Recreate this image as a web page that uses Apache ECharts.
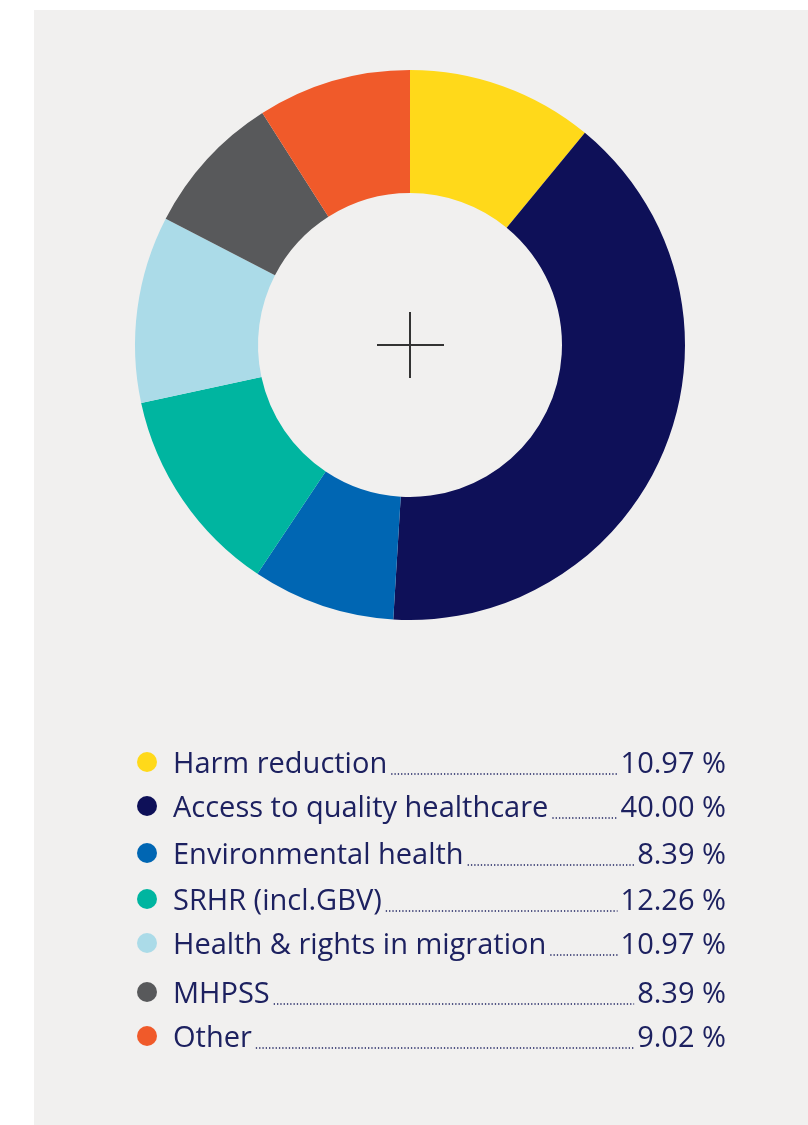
<!DOCTYPE html>
<html>
<head>
<meta charset="utf-8">
<script src="https://cdn.jsdelivr.net/npm/echarts@6/dist/echarts.min.js"></script>
<style>
  html, body { margin: 0; padding: 0; background: #ffffff; }
  #chart { width: 808px; height: 1125px; }
</style>
</head>
<body>
<div id="chart"></div>
<script>
// data
const categories = [
  'Harm reduction',
  'Access to quality healthcare',
  'Environmental health',
  'SRHR (incl.GBV)',
  'Health & rights in migration',
  'MHPSS',
  'Other'
]
const shares = [10.97, 40.00, 8.39, 12.26, 10.97, 8.39, 9.02]
const shareLabels = ['10.97 %', '40.00 %', '8.39 %', '12.26 %', '10.97 %', '8.39 %', '9.02 %']
const colors = ['#FFD91A', '#0E1058', '#0066B3', '#00B5A0', '#ABDBE8', '#58595B', '#F05A2A']

const TEXT_COLOR = '#1d2160'
const FONT_SIZE = 29
const FONT_FAMILY = '"Open Sans", sans-serif'

// legend layout (row centres follow the reference spacing)
const LEGEND = { dotX: 147, textX: 173, valueRight: 726 }
const ROW_Y = [763, 807, 854, 900, 944, 993, 1037]

const ctx = document.createElement('canvas').getContext('2d')
ctx.font = `${FONT_SIZE}px ${FONT_FAMILY}`
const measure = s => ctx.measureText(s).width

const legendItems = []
categories.forEach((name, i) => {
  const y = ROW_Y[i]
  const labelEnd = LEGEND.textX + measure(name)
  const valueStart = LEGEND.valueRight - measure(shareLabels[i])
  legendItems.push({
    type: 'circle',
    shape: { cx: LEGEND.dotX, cy: y - 1, r: 10 },
    style: { fill: colors[i] }
  })
  legendItems.push({
    type: 'text',
    x: LEGEND.textX,
    y: y + 2,
    style: {
      text: name,
      fill: TEXT_COLOR,
      font: `${FONT_SIZE}px ${FONT_FAMILY}`,
      verticalAlign: 'middle',
      align: 'left'
    }
  })
  legendItems.push({
    type: 'line',
    shape: { x1: labelEnd + 4, y1: y + 11, x2: valueStart - 3, y2: y + 11 },
    style: { stroke: TEXT_COLOR, lineWidth: 1.3, lineDash: [1.3, 2] }
  })
  legendItems.push({
    type: 'text',
    x: LEGEND.valueRight,
    y: y + 2,
    style: {
      text: shareLabels[i],
      fill: TEXT_COLOR,
      font: `${FONT_SIZE}px ${FONT_FAMILY}`,
      verticalAlign: 'middle',
      align: 'right'
    }
  })
})

const chart = echarts.init(document.getElementById('chart'))
chart.setOption({
  animation: false,
  color: colors,
  graphic: [
    {
      type: 'rect',
      z: -10,
      silent: true,
      shape: { x: 34, y: 10, width: 800, height: 1200 },
      style: { fill: '#f1f0ef' }
    },
    // cross in the middle of the donut
    {
      type: 'line',
      shape: { x1: 377, y1: 345, x2: 444, y2: 345 },
      style: { stroke: '#333333', lineWidth: 2 }
    },
    {
      type: 'line',
      shape: { x1: 410, y1: 312, x2: 410, y2: 378 },
      style: { stroke: '#333333', lineWidth: 2 }
    },
    ...legendItems
  ],
  series: [{
    type: 'pie',
    center: [410, 345],
    radius: [152, 275],
    startAngle: 90,
    clockwise: true,
    label: { show: false },
    labelLine: { show: false },
    emphasis: { disabled: true },
    itemStyle: { borderWidth: 0 },
    data: categories.map((name, i) => ({ name, value: shares[i] }))
  }]
})
</script>
</body>
</html>
